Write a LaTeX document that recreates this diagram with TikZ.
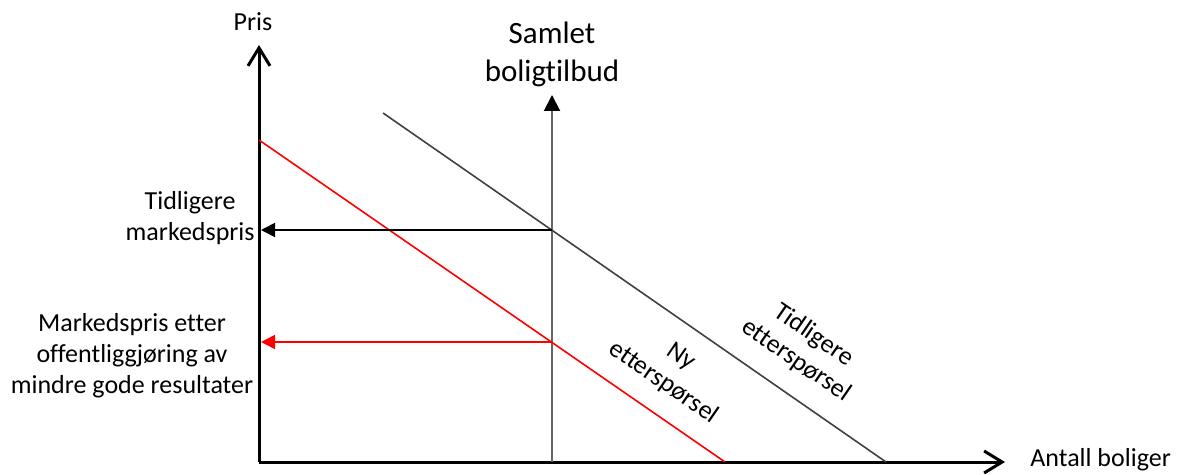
\documentclass[tikz,border=0pt]{standalone}
\usepackage{fontspec}
\setmainfont{Carlito}[Ligatures=NoCommon]
\usetikzlibrary{arrows.meta,positioning}

\begin{document}
\begin{tikzpicture}[x=0.5pt,y=-0.5pt,
  axis/.style={line width=1.5pt,-{Straight Barb[length=9pt,width=11pt,line width=1.5pt]}},
  tilbud/.style={line width=1pt,draw=black!60,-{Triangle[length=8pt,width=8pt,color=black]}},
  demand/.style={line width=0.8pt},
  prisarr/.style={line width=0.8pt,-{Triangle[length=7pt,width=7pt]}},
  lbl/.style={font=\fontsize{13}{15.5}\selectfont,inner sep=0pt},
  big/.style={font=\fontsize{15.5}{19}\selectfont,inner sep=0pt,align=center}
]
\useasboundingbox (0,0) rectangle (1188,475);

% axes
\coordinate (O) at (259,462);
\coordinate (ytop) at (259,45);
\coordinate (xend) at (1005,462);
\draw[axis] (O) -- (ytop);
\draw[axis] (O) -- (xend);
\node[lbl] (pris) at (253,22) {Pris};
\node[lbl,anchor=west] (antall) at (1030,460) {Antall boliger};

% supply
\coordinate (sbot) at (552,462);
\coordinate (stop) at (552,95);
\draw[tilbud] (sbot) -- (stop);
\node[big] (samlet) at (552,54) {Samlet\\boligtilbud};

% demand curves
\coordinate (d0a) at (383,113);
\coordinate (d0b) at (886,462);
\coordinate (d1a) at (259,140);
\coordinate (d1b) at (725,462);
\draw[demand,draw=black!75] (d0a) -- (d0b);
\draw[demand,red] (d1a) -- (d1b);
\node[lbl,align=center,rotate=-34.6] (tidl) at (805,348) {Tidligere\\etterspørsel};
\node[lbl,align=center,rotate=-34.6] (ny) at (672,370) {Ny\\etterspørsel};

% market prices
\coordinate (e0) at (552,230);
\coordinate (p0) at (261,230);
\coordinate (e1) at (552,342);
\coordinate (p1) at (261,342);
\draw[prisarr] (e0) -- (p0);
\draw[prisarr,red] (e1) -- (p1);
\node[lbl,align=center,anchor=east] (tidlpris) at (255,218) {Tidligere\\markedspris};
\node[lbl,align=center] (nypris) at (132,356) {Markedspris etter\\offentliggjøring av\\mindre gode resultater};
\end{tikzpicture}
\end{document}
